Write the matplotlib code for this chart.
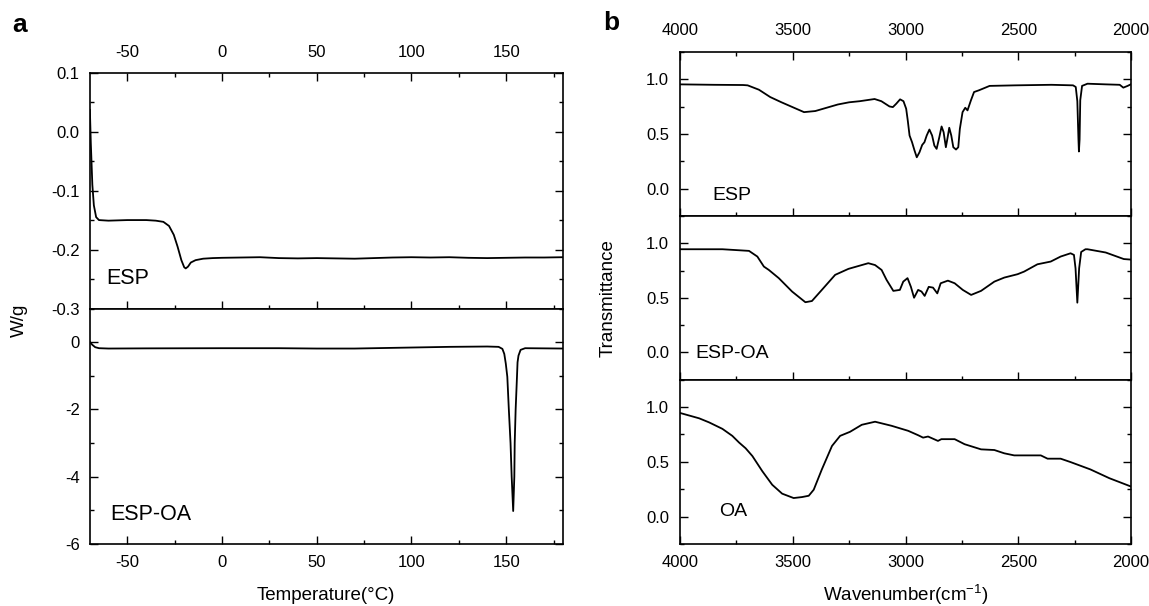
import matplotlib
matplotlib.use('Agg')
import matplotlib.pyplot as plt
from matplotlib.ticker import MultipleLocator, FormatStrFormatter

plt.rcParams['font.family'] = ['Liberation Sans', 'DejaVu Sans']
plt.rcParams['axes.unicode_minus'] = False
plt.rcParams['mathtext.default'] = 'regular'

# ---------------- DSC data (panel a) ----------------
dsc_esp_T = [-69.8, -69.3, -68.5, -67.7, -66.5, -65, -60, -50, -40, -35, -31, -28, -25.5,
             -23.5, -21.5, -20, -19.2, -18, -16.5, -14, -10, -5, 0, 10, 20, 30, 40, 50,
             60, 70, 80, 90, 100, 110, 120, 130, 140, 150, 160, 170, 180]
dsc_esp_W = [0.037, -0.02, -0.09, -0.125, -0.145, -0.15, -0.151, -0.15, -0.15, -0.151,
             -0.153, -0.16, -0.175, -0.195, -0.218, -0.23, -0.232, -0.229, -0.222, -0.218,
             -0.2155, -0.2145, -0.214, -0.2135, -0.213, -0.2145, -0.215, -0.2145, -0.215,
             -0.2155, -0.2145, -0.2135, -0.213, -0.2135, -0.213, -0.214, -0.2145, -0.214,
             -0.2135, -0.2135, -0.213]

dsc_oa_T = [-70, -68.5, -67, -65, -60, -40, 0, 30, 50, 70, 90, 100, 120, 140, 146, 148,
            149, 149.8, 150.6, 151.4, 152.3, 152.9, 153.7, 154.3, 154.5, 155.0, 155.7,
            156.0, 156.5, 157.6, 160, 170, 180]
dsc_oa_W = [0.02, -0.08, -0.15, -0.18, -0.19, -0.185, -0.18, -0.18, -0.19, -0.19, -0.17,
            -0.16, -0.14, -0.13, -0.14, -0.2, -0.35, -0.64, -1.03, -2.0, -3.0, -4.0, -5.02,
            -4.0, -3.0, -2.0, -1.03, -0.6, -0.4, -0.23, -0.18, -0.185, -0.19]

# ---------------- FTIR data (panel b) ----------------
ir_esp_wn = [4000, 3850, 3720, 3700, 3650, 3600, 3550, 3500, 3450, 3400, 3350, 3300, 3250,
             3203, 3137, 3107, 3071, 3056, 3041, 3024, 3009, 2997, 2990, 2982, 2971, 2960,
             2950, 2938, 2926, 2916, 2906, 2894, 2882, 2872, 2862, 2850, 2840, 2831, 2821,
             2813, 2806, 2797, 2788, 2776, 2766, 2759, 2747, 2735, 2725, 2710, 2696, 2674,
             2627, 2514, 2353, 2257, 2245, 2238, 2233, 2231, 2228, 2225, 2217, 2193, 2112,
             2050, 2034, 2015, 2000]
ir_esp_T = [0.954, 0.95, 0.948, 0.945, 0.905, 0.838, 0.79, 0.745, 0.70, 0.71, 0.74, 0.77,
            0.79, 0.80, 0.82, 0.80, 0.752, 0.746, 0.777, 0.817, 0.80, 0.731, 0.624, 0.486,
            0.425, 0.349, 0.287, 0.333, 0.40, 0.425, 0.486, 0.541, 0.486, 0.394, 0.364,
            0.471, 0.569, 0.517, 0.379, 0.471, 0.557, 0.486, 0.379, 0.358, 0.379, 0.547,
            0.70, 0.74, 0.716, 0.807, 0.884, 0.90, 0.94, 0.945, 0.95, 0.945, 0.93, 0.80,
            0.45, 0.34, 0.45, 0.81, 0.94, 0.96, 0.954, 0.95, 0.924, 0.94, 0.955]

ir_espoa_wn = [4000, 3812, 3694, 3657, 3628, 3606, 3562, 3503, 3444, 3415, 3371, 3312, 3253,
               3165, 3135, 3106, 3084, 3054, 3025, 3010, 2991, 2976, 2962, 2944, 2929, 2915,
               2897, 2878, 2859, 2844, 2812, 2782, 2746, 2709, 2665, 2606, 2562, 2503, 2474,
               2415, 2356, 2312, 2268, 2253, 2246, 2238, 2230, 2221, 2202, 2193, 2112, 2032,
               2000]
ir_espoa_T = [0.945, 0.945, 0.93, 0.878, 0.786, 0.755, 0.68, 0.557, 0.459, 0.47, 0.572,
              0.71, 0.765, 0.817, 0.80, 0.755, 0.664, 0.563, 0.572, 0.648, 0.68, 0.60, 0.50,
              0.572, 0.557, 0.517, 0.60, 0.593, 0.54, 0.633, 0.657, 0.633, 0.572, 0.526,
              0.563, 0.648, 0.685, 0.716, 0.74, 0.807, 0.832, 0.878, 0.908, 0.893, 0.77,
              0.455, 0.77, 0.92, 0.945, 0.945, 0.915, 0.855, 0.85]

ir_oa_wn = [4000, 3915, 3871, 3812, 3768, 3738, 3709, 3679, 3635, 3591, 3547, 3496, 3459,
            3429, 3407, 3371, 3326, 3290, 3246, 3194, 3135, 3062, 2988, 2944, 2922, 2900,
            2856, 2841, 2782, 2738, 2665, 2606, 2562, 2518, 2459, 2400, 2370, 2312, 2268,
            2180, 2096, 2000]
ir_oa_T = [0.945, 0.896, 0.859, 0.80, 0.736, 0.675, 0.623, 0.552, 0.414, 0.29, 0.209,
           0.169, 0.178, 0.19, 0.245, 0.43, 0.644, 0.736, 0.773, 0.837, 0.865, 0.828,
           0.782, 0.742, 0.72, 0.73, 0.69, 0.706, 0.706, 0.66, 0.613, 0.607, 0.577, 0.558,
           0.558, 0.558, 0.528, 0.528, 0.497, 0.43, 0.35, 0.274]

W, H = 1149, 606
fig = plt.figure(figsize=(W / 100, H / 100), dpi=100)


def fx(px):
    return px / W


def fy(py):
    return 1 - py / H


def ax_rect(l, r, t, b):
    return [fx(l), fy(b), fx(r) - fx(l), fy(t) - fy(b)]


LW = 1.3
TICK = dict(direction='in', width=1.0)


def style(ax, tick_size):
    for s in ax.spines.values():
        s.set_linewidth(1.2)
    ax.tick_params(which='major', length=6, labelsize=tick_size, **TICK)
    ax.tick_params(which='minor', length=3, **TICK)
    ax.tick_params(axis='y', which='both', left=True, right=True, pad=7)


# ---------------- panel a ----------------
a_l, a_r = 89.5, 563
axa1 = fig.add_axes(ax_rect(a_l, a_r, 72.7, 308.5))
axa2 = fig.add_axes(ax_rect(a_l, a_r, 308.5, 544))

axa1.plot(dsc_esp_T, dsc_esp_W, color='black', lw=LW)
axa2.plot(dsc_oa_T, dsc_oa_W, color='black', lw=LW)

for ax in (axa1, axa2):
    ax.set_xlim(-70, 180)
    ax.xaxis.set_major_locator(MultipleLocator(50))
    ax.xaxis.set_minor_locator(MultipleLocator(25))
    style(ax, 12)

axa1.set_ylim(-0.3, 0.1)
axa1.yaxis.set_major_locator(MultipleLocator(0.1))
axa1.yaxis.set_minor_locator(MultipleLocator(0.05))
axa1.yaxis.set_major_formatter(FormatStrFormatter('%.1f'))
axa1.tick_params(axis='x', which='both', top=True, bottom=True,
                 labeltop=True, labelbottom=False, pad=9)

axa2.set_ylim(-6, 1)
axa2.set_yticks([0, -2, -4, -6])
axa2.yaxis.set_minor_locator(MultipleLocator(1))
axa2.tick_params(axis='x', which='both', top=False, bottom=True,
                 labelbottom=True, pad=8)

fig.text(fx(106), fy(279), 'ESP', fontsize=15.5, ha='left', va='center')
fig.text(fx(110), fy(515), 'ESP-OA', fontsize=15.5, ha='left', va='center')
fig.text(fx(19), fy(320), 'W/g', fontsize=13.5, rotation=90, ha='center', va='center')
fig.text(fx(326), fy(595), 'Temperature(°C)', fontsize=13.5, ha='center', va='center')
fig.text(fx(20), fy(25), 'a', fontsize=19, fontweight='bold', ha='center', va='center')

# ---------------- panel b ----------------
b_l, b_r = 680, 1131
axb1 = fig.add_axes(ax_rect(b_l, b_r, 52, 216))
axb2 = fig.add_axes(ax_rect(b_l, b_r, 216, 379.5))
axb3 = fig.add_axes(ax_rect(b_l, b_r, 379.5, 544))

axb1.plot(ir_esp_wn, ir_esp_T, color='black', lw=LW)
axb2.plot(ir_espoa_wn, ir_espoa_T, color='black', lw=LW)
axb3.plot(ir_oa_wn, ir_oa_T, color='black', lw=LW)

for ax in (axb1, axb2, axb3):
    ax.set_xlim(4000, 2000)
    ax.set_ylim(-0.25, 1.25)
    ax.xaxis.set_major_locator(MultipleLocator(500))
    ax.xaxis.set_minor_locator(MultipleLocator(250))
    ax.yaxis.set_major_locator(MultipleLocator(0.5))
    ax.yaxis.set_minor_locator(MultipleLocator(0.25))
    ax.yaxis.set_major_formatter(FormatStrFormatter('%.1f'))
    style(ax, 12)
    ax.tick_params(axis='y', pad=8)

axb1.tick_params(axis='x', which='both', top=True, bottom=True,
                 labeltop=True, labelbottom=False, pad=10)
axb2.tick_params(axis='x', which='both', top=False, bottom=True,
                 labelbottom=False)
axb3.tick_params(axis='x', which='both', top=False, bottom=True,
                 labelbottom=True, pad=8)

fig.text(fx(712), fy(196), 'ESP', fontsize=14, ha='left', va='center')
fig.text(fx(695), fy(353), 'ESP-OA', fontsize=14, ha='left', va='center')
fig.text(fx(719), fy(511), 'OA', fontsize=14, ha='left', va='center')
fig.text(fx(608), fy(298), 'Transmittance', fontsize=13.5, rotation=90,
         ha='center', va='center')
fig.text(fx(905.5), fy(595), 'Wavenumber(cm$^{-1}$)', fontsize=13.5,
         ha='center', va='center')
fig.text(fx(611), fy(23), 'b', fontsize=19, fontweight='bold', ha='center', va='center')

fig.savefig('out.png', dpi=100)
